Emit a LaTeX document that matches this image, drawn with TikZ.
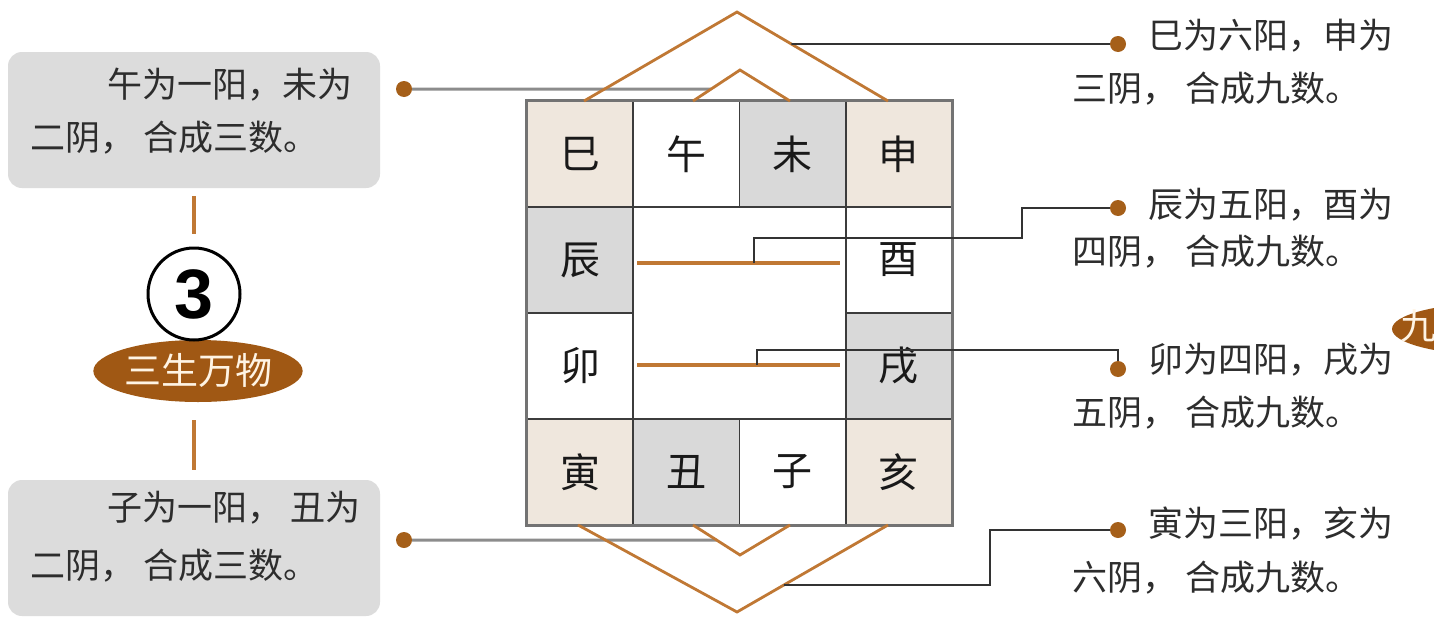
\documentclass[tikz,border=0pt]{standalone}
\usepackage{fontspec}
\setmainfont{Liberation Sans}
\newfontfamily\cjk{Noto Sans CJK SC}
\usetikzlibrary{shapes.geometric,calc}
\definecolor{beigec}{RGB}{239,231,221}
\definecolor{grayc}{RGB}{217,217,217}
\definecolor{boxc}{RGB}{220,220,220}
\definecolor{orc}{RGB}{192,120,52}
\definecolor{dotc}{RGB}{165,95,25}
\definecolor{ellc}{RGB}{160,88,20}
\definecolor{gridc}{RGB}{60,60,60}
\definecolor{txtc}{RGB}{45,45,45}
\tikzset{
  cellbox/.style={draw=gridc,line width=1.8pt,minimum width=106.25pt,minimum height=106pt,inner sep=0pt,
    font=\cjk\fontsize{40}{40}\selectfont,text=black!90},
  txtline/.style={anchor=west,inner sep=0pt,font=\cjk\fontsize{35}{40}\selectfont,text=txtc},
  dotnode/.style={circle,fill=dotc,minimum size=16pt,inner sep=0pt},
  graybox/.style={rounded corners=14pt,fill=boxc,minimum width=372pt,minimum height=136pt,inner sep=0pt},
  orline/.style={draw=orc,line width=4pt},
  diam/.style={draw=orc,line width=2.8pt,line join=miter},
  lconn/.style={draw=gray!90,line width=3pt},
  rconn/.style={draw=black!80,line width=1.8pt},
}
\begin{document}
\begin{tikzpicture}[x=1pt,y=-1pt]
\clip (0,0) rectangle (1434,621);
\fill[white] (0,0) rectangle (1434,621);

% left boxes
\node[graybox] (box1) at (194,120) {};
\node[graybox] (box2) at (194,548) {};
\node[txtline] (b1a) at (107,85) {午为一阳，未为};
\node[txtline] (b1b) at (30,138) {二阴， 合成三数。};
\node[txtline] (b2a) at (107,508) {子为一阳， 丑为};
\node[txtline] (b2b) at (30,566) {二阴， 合成三数。};

% circle and ellipse
\node[ellipse,fill=ellc,minimum width=206pt,minimum height=62pt,inner sep=0pt,
  text={rgb,255:red,255;green,244;blue,228},font=\cjk\fontsize{37}{37}\selectfont] (ell) at (198,371) {\raisebox{5pt}{三生万物}};
\node[circle,draw=black,line width=3pt,fill=white,minimum size=92pt,inner sep=0pt,
  font=\bfseries\fontsize{70}{70}\selectfont] (circ) at (194,294) {3};
\draw[orc,line width=4pt,shorten <=8pt,shorten >=13pt] (box1.south) -- (circ.north);
\draw[orc,line width=4pt,shorten <=18pt,shorten >=10pt] (ell.south -| box2.north) -- (box2.north);

% grid cells
\node[cellbox,fill=beigec] (c11) at (580.125,154) {巳};
\node[cellbox,fill=white]  (c12) at (686.375,154) {午};
\node[cellbox,fill=grayc]  (c13) at (792.625,154) {未};
\node[cellbox,fill=beigec] (c14) at (898.875,154) {申};
\node[cellbox,fill=grayc]  (c21) at (580.125,260) {辰};
\node[cellbox,fill=white]  (c24) at (898.875,260) {酉};
\node[cellbox,fill=white]  (c31) at (580.125,366) {卯};
\node[cellbox,fill=grayc]  (c34) at (898.875,366) {戌};
\node[cellbox,fill=beigec] (c41) at (580.125,472) {寅};
\node[cellbox,fill=grayc]  (c42) at (686.375,472) {丑};
\node[cellbox,fill=white]  (c43) at (792.625,472) {子};
\node[cellbox,fill=beigec] (c44) at (898.875,472) {亥};
\node[draw=gridc,line width=1.8pt,fill=white,minimum width=212.5pt,minimum height=212pt,inner sep=0pt] (mid) at (739.5,313) {};
\draw[draw=black!55,line width=3pt] (c11.north west) rectangle (c44.south east);

% orange lines in the middle
\coordinate (o1l) at (637,263);
\coordinate (o1r) at (840,263);
\coordinate (o2l) at (637,365);
\coordinate (o2r) at (840,365);
\draw[orline] (o1l) -- (o1r);
\draw[orline] (o2l) -- (o2r);
\coordinate (k1) at (754,263);
\coordinate (k2) at (757,365);

% diamonds
\coordinate (ota) at (737,12);
\coordinate (otl) at (584,101);
\coordinate (otr) at (888,101);
\coordinate (ita) at (740,70);
\coordinate (itl) at (693,101);
\coordinate (itr) at (790,101);
\coordinate (iba) at (740,555);
\coordinate (ibl) at (693,525);
\coordinate (ibr) at (790,525);
\coordinate (oba) at (737,612);
\coordinate (obl) at (578,525);
\coordinate (obr) at (888,525);

% left connectors (drawn below the triangles)
\node[dotnode] (d1) at (404,89) {};
\node[dotnode] (d2) at (404,540) {};
\coordinate (e1) at (intersection of itl--ita and d1--{(800,89)});
\coordinate (e2) at (intersection of ibl--iba and d2--{(800,540)});
\draw[lconn] (d1) -- (e1);
\draw[lconn] (d2) -- (e2);

\draw[diam] (otl) -- (ota) -- (otr);
\draw[diam] (itl) -- (ita) -- (itr);
\draw[diam] (ibl) -- (iba) -- (ibr);
\draw[diam] (obl) -- (oba) -- (obr);

% right dots and texts
\node[dotnode] (d3) at (1118,44) {};
\node[dotnode] (d4) at (1118,208) {};
\node[dotnode] (d5) at (1118,369) {};
\node[dotnode] (d6) at (1118,530) {};
\node[txtline] (r1a) at (1148,36) {巳为六阳，申为};
\node[txtline] (r1b) at (1072,89) {三阴， 合成九数。};
\node[txtline] (r2a) at (1148,205) {辰为五阳，酉为};
\node[txtline] (r2b) at (1072,252) {四阴， 合成九数。};
\node[txtline] (r3a) at (1148,360) {卯为四阳，戌为};
\node[txtline] (r3b) at (1072,413) {五阴， 合成九数。};
\node[txtline] (r4a) at (1148,524) {寅为三阳，亥为};
\node[txtline] (r4b) at (1072,578) {六阴， 合成九数。};

% right connectors
\coordinate (e3) at (intersection of ota--otr and d3--{(700,44)});
\coordinate (e6) at (intersection of oba--obr and {(700,585)}--{(1000,585)});
\draw[rconn] (e3) -- (d3);
\coordinate (j4) at (1022,238);
\draw[rconn] (k1) |- (j4) |- (d4);
\coordinate (j5) at (1118,350);
\draw[rconn] (k2) |- (j5) -- (d5);
\coordinate (j6) at (990,585);
\draw[rconn] (e6) -- (j6) |- (d6);

% partial ellipse at the right edge
\node[ellipse,fill=ellc,minimum width=206pt,minimum height=52pt,inner sep=0pt] (ell2) at (1495,329) {};
\node[anchor=west,inner sep=0pt,text={rgb,255:red,255;green,244;blue,228},font=\cjk\fontsize{36}{36}\selectfont] (ell2t) at (1400,326) {九};
\end{tikzpicture}
\end{document}
